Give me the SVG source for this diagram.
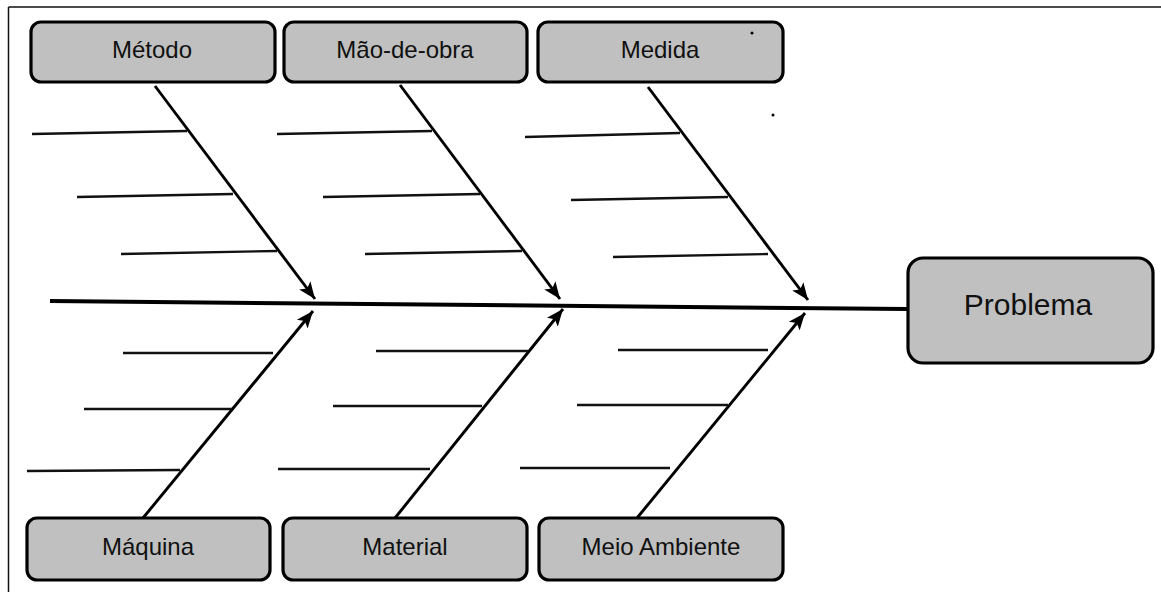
<svg xmlns="http://www.w3.org/2000/svg" width="1161" height="592" viewBox="0 0 1161 592">
<defs>
<style>
.box{fill:#c0c0c0;stroke:#000;stroke-width:3.2}
.lbl{font-family:"Liberation Sans",Arial,sans-serif;font-size:24px;fill:#111;text-anchor:middle}
.big{font-size:30px}
.rib{stroke:#111;stroke-width:2.3;fill:none}
.bone{stroke:#000;stroke-width:2.9;fill:none;marker-end:url(#ah)}
.spine{stroke:#000;stroke-width:4;fill:none}
</style>
<marker id="ah" markerUnits="userSpaceOnUse" markerWidth="18" markerHeight="16" viewBox="0 0 18 16" refX="17" refY="8" orient="auto">
<path d="M0,1 L17,8 L0,15 L4,8 Z" fill="#000"/>
</marker>
</defs>
<rect width="1161" height="592" fill="#fff"/>
<g id="frame" stroke="#111" stroke-width="1.5" fill="none">
<line x1="8.5" y1="7" x2="1161" y2="7"/>
<line x1="8.5" y1="7" x2="8.5" y2="592"/>
</g>
<g id="connectors">
<line class="spine" x1="50" y1="301" x2="907" y2="309"/>
<line class="bone" x1="155" y1="86" x2="315" y2="299"/>
<line class="bone" x1="400" y1="85" x2="560" y2="299"/>
<line class="bone" x1="648" y1="87" x2="808" y2="300"/>
<line class="bone" x1="143" y1="518" x2="313" y2="311"/>
<line class="bone" x1="395" y1="518" x2="563" y2="309"/>
<line class="bone" x1="637" y1="518" x2="805" y2="313"/>
<g id="ribs">
<line class="rib" x1="32" y1="134" x2="187" y2="131"/>
<line class="rib" x1="77" y1="197" x2="233" y2="194"/>
<line class="rib" x1="121" y1="254" x2="277" y2="251"/>
<line class="rib" x1="277" y1="134" x2="432" y2="131"/>
<line class="rib" x1="323" y1="197" x2="480" y2="194"/>
<line class="rib" x1="365" y1="254" x2="522" y2="251"/>
<line class="rib" x1="525" y1="137" x2="680" y2="133"/>
<line class="rib" x1="571" y1="200" x2="728" y2="197"/>
<line class="rib" x1="613" y1="257" x2="768" y2="254"/>
<line class="rib" x1="123" y1="353" x2="273" y2="353"/>
<line class="rib" x1="84" y1="409" x2="232" y2="409"/>
<line class="rib" x1="27" y1="471" x2="180" y2="470"/>
<line class="rib" x1="376" y1="351" x2="528" y2="351"/>
<line class="rib" x1="333" y1="406" x2="482" y2="406"/>
<line class="rib" x1="278" y1="469" x2="430" y2="469"/>
<line class="rib" x1="618" y1="350" x2="768" y2="350"/>
<line class="rib" x1="577" y1="405" x2="728" y2="405"/>
<line class="rib" x1="520" y1="468" x2="670" y2="468"/>
</g>
</g>
<g id="metodo"><rect class="box" x="31" y="22" width="244" height="60" rx="10"/><text class="lbl" x="152" y="58">Método</text></g>
<g id="maodeobra"><rect class="box" x="284" y="22" width="243" height="60" rx="10"/><text class="lbl" x="405" y="58">Mão-de-obra</text></g>
<g id="medida"><rect class="box" x="538" y="22" width="245" height="60" rx="10"/><text class="lbl" x="660" y="58">Medida</text></g>
<g id="maquina"><rect class="box" x="27" y="518" width="243" height="62" rx="10"/><text class="lbl" x="148" y="555">Máquina</text></g>
<g id="material"><rect class="box" x="283" y="518" width="244" height="62" rx="10"/><text class="lbl" x="405" y="555">Material</text></g>
<g id="meioambiente"><rect class="box" x="539" y="518" width="244" height="62" rx="10"/><text class="lbl" x="661" y="555">Meio Ambiente</text></g>
<g id="problema"><rect class="box" x="908" y="258" width="245" height="105" rx="15"/><text class="lbl big" x="1028" y="315">Problema</text></g>
<g id="dots" fill="#000"><circle cx="752" cy="33" r="1.5"/><circle cx="773" cy="115" r="1.5"/></g>
</svg>
